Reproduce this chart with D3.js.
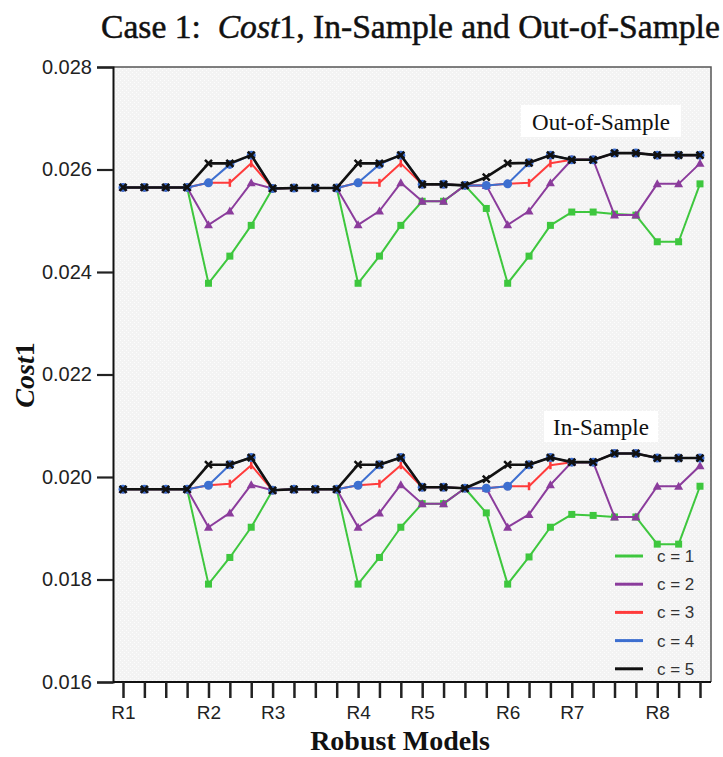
<!DOCTYPE html>
<html><head><meta charset="utf-8">
<script src="https://cdn.jsdelivr.net/npm/d3@7"></script>
<style>body{margin:0;background:#fff}svg{display:block}</style>
</head><body><svg id="c" width="723" height="757"></svg>
<script>
const categories = d3.range(28);
const tickLabels = ["R1","","","","R2","","","R3","","","","R4","","","R5","","","","R6","","","R7","","","","R8","",""];
const yTicks = [0.016,0.018,0.020,0.022,0.024,0.026,0.028];
const seriesNames = ["c = 1","c = 2","c = 3","c = 4","c = 5"];
const seriesColors = ["#3ec73e","#8b3c9c","#ff3b3b","#3d6fd0","#111111"];

const outC1 = [0.02565,0.02565,0.02565,0.02565,0.02378,0.02431,0.02491,0.02563,0.02564,0.02564,0.02564,0.02378,0.02431,0.02491,0.02538,0.02538,0.02569,0.02524,0.02378,0.02431,0.02491,0.02517,0.02517,0.02513,0.02511,0.02459,0.02459,0.02572];
const outC2 = [0.02565,0.02565,0.02565,0.02565,0.02492,0.02519,0.02574,0.02563,0.02564,0.02564,0.02564,0.02492,0.02519,0.02574,0.02538,0.02538,0.02569,0.02569,0.02492,0.02519,0.02574,0.02619,0.02619,0.02511,0.02511,0.02572,0.02572,0.02612];
const outC3 = [0.02565,0.02565,0.02565,0.02565,0.02574,0.02574,0.02612,0.02563,0.02564,0.02564,0.02564,0.02574,0.02574,0.02612,0.02571,0.02571,0.02569,0.02569,0.02572,0.02574,0.02612,0.02619,0.02619,0.02632,0.02632,0.02628,0.02628,0.02628];
const outC4 = [0.02565,0.02565,0.02565,0.02565,0.02574,0.02610,0.02628,0.02563,0.02564,0.02564,0.02564,0.02574,0.02610,0.02628,0.02571,0.02571,0.02569,0.02569,0.02572,0.02613,0.02628,0.02619,0.02619,0.02632,0.02632,0.02628,0.02628,0.02628];
const outC5 = [0.02565,0.02565,0.02565,0.02565,0.02612,0.02612,0.02628,0.02563,0.02564,0.02564,0.02564,0.02612,0.02612,0.02628,0.02571,0.02571,0.02569,0.02585,0.02612,0.02613,0.02628,0.02619,0.02619,0.02632,0.02632,0.02628,0.02628,0.02628];

const inC1 = [0.01976,0.01976,0.01976,0.01976,0.01791,0.01843,0.01902,0.01974,0.01976,0.01976,0.01976,0.01791,0.01843,0.01902,0.01948,0.01948,0.01978,0.01930,0.01791,0.01844,0.01902,0.01927,0.01925,0.01922,0.01922,0.01869,0.01869,0.01982];
const inC2 = [0.01976,0.01976,0.01976,0.01976,0.01902,0.01930,0.01985,0.01974,0.01976,0.01976,0.01976,0.01902,0.01930,0.01985,0.01948,0.01948,0.01978,0.01978,0.01902,0.01927,0.01985,0.02029,0.02029,0.01922,0.01922,0.01982,0.01982,0.02022];
const inC3 = [0.01976,0.01976,0.01976,0.01976,0.01984,0.01987,0.02023,0.01974,0.01976,0.01976,0.01976,0.01984,0.01987,0.02023,0.01980,0.01980,0.01978,0.01978,0.01982,0.01982,0.02023,0.02029,0.02029,0.02046,0.02046,0.02037,0.02037,0.02037];
const inC4 = [0.01976,0.01976,0.01976,0.01976,0.01984,0.02024,0.02038,0.01974,0.01976,0.01976,0.01976,0.01984,0.02024,0.02038,0.01980,0.01980,0.01978,0.01978,0.01982,0.02024,0.02038,0.02029,0.02029,0.02046,0.02046,0.02037,0.02037,0.02037];
const inC5 = [0.01976,0.01976,0.01976,0.01976,0.02024,0.02024,0.02038,0.01974,0.01976,0.01976,0.01976,0.02024,0.02024,0.02038,0.01980,0.01980,0.01978,0.01996,0.02024,0.02024,0.02038,0.02029,0.02029,0.02046,0.02046,0.02037,0.02037,0.02037];

const outSeries = [outC1,outC2,outC3,outC4,outC5];
const inSeries = [inC1,inC2,inC3,inC4,inC5];

const svg = d3.select("#c");
const L = 113, R = 711, T = 67, B = 682;
const x = d3.scalePoint().domain(categories).range([123, 700]);
const y = d3.scaleLinear().domain([0.016, 0.028]).range([B, T]);

// background pattern
const defs = svg.append("defs");
const pat = defs.append("pattern").attr("id","dots").attr("width",4).attr("height",4).attr("patternUnits","userSpaceOnUse");
pat.append("rect").attr("width",4).attr("height",4).attr("fill","#f3f3f3");
pat.append("rect").attr("x",0).attr("y",0).attr("width",1).attr("height",1).attr("fill","#fdfdfd");
pat.append("rect").attr("x",2).attr("y",2).attr("width",1).attr("height",1).attr("fill","#fdfdfd");
svg.append("rect").attr("x",L).attr("y",T).attr("width",R-L).attr("height",B-T).attr("fill","url(#dots)");
// top and right frame
svg.append("path").attr("d",`M${L},${T}H${R}V${B}`).attr("fill","none").attr("stroke","#555").attr("stroke-width",1.5);

// Annotation labels
function labelBox(txt, cx, baseline, w, h){
  svg.append("rect").attr("x",cx-w/2).attr("y",baseline-h+7).attr("width",w).attr("height",h).attr("fill","#fff");
  svg.append("text").attr("x",cx).attr("y",baseline).attr("text-anchor","middle")
    .attr("font-family","'Liberation Serif','Times New Roman',serif").attr("font-size",23).attr("fill","#111").text(txt);
}
labelBox("Out-of-Sample", 601, 130, 160, 32);
labelBox("In-Sample", 601, 435, 114, 31);

// y axis
const yAxis = d3.axisLeft(y).tickValues(yTicks).tickFormat(d3.format(".3f")).tickSize(16).tickPadding(5);
const gy = svg.append("g").attr("transform",`translate(${L},0)`).call(yAxis);
gy.select(".domain").attr("stroke","#111").attr("stroke-width",2);
gy.selectAll(".tick line").attr("stroke","#222").attr("stroke-width",2.2);
gy.selectAll(".tick text").attr("font-family","'Liberation Sans',Arial,sans-serif").attr("font-size",20).attr("fill","#222");

// x axis
const xAxis = d3.axisBottom(x).tickFormat((d,i)=>tickLabels[i]).tickSize(16).tickPadding(8);
const gx = svg.append("g").attr("transform",`translate(0,${B})`).call(xAxis);
gx.select(".domain").attr("d",`M${L},0H${R}`).attr("stroke","#111").attr("stroke-width",2);
gx.selectAll(".tick line").attr("stroke","#222").attr("stroke-width",2.5);
gx.selectAll(".tick text").attr("font-family","'Liberation Sans',Arial,sans-serif").attr("font-size",19).attr("fill","#222");

// series
const line = d3.line().x((d,i)=>x(i)).y(d=>y(d));
function marker(g, k, cx, cy, col){
  if(k===0){ g.append("rect").attr("x",cx-3.5).attr("y",cy-3.5).attr("width",7).attr("height",7).attr("fill",col); }
  else if(k===1){ g.append("path").attr("d",`M${cx},${cy-4.5}L${cx+4.5},${cy+3.5}L${cx-4.5},${cy+3.5}Z`).attr("fill",col); }
  else if(k===2){ g.append("path").attr("d",`M${cx},${cy-4}V${cy+4}`).attr("stroke",col).attr("stroke-width",2.5); }
  else if(k===3){ g.append("circle").attr("cx",cx).attr("cy",cy).attr("r",4.5).attr("fill",col); }
  else { g.append("path").attr("d",`M${cx-3.5},${cy-3.5}L${cx+3.5},${cy+3.5}M${cx+3.5},${cy-3.5}L${cx-3.5},${cy+3.5}`).attr("stroke",col).attr("stroke-width",2.5); }
}
[outSeries, inSeries].forEach(group=>{
  group.forEach((vals,k)=>{
    const g = svg.append("g");
    g.append("path").datum(vals).attr("d",line).attr("fill","none").attr("stroke",seriesColors[k])
      .attr("stroke-width",k===4?2.6:2).attr("stroke-linejoin","round");
    vals.forEach((v,i)=>marker(g,k,x(i),y(v),seriesColors[k]));
  });
});

// legend
const lg = svg.append("g");
seriesNames.forEach((n,k)=>{
  const yy = 556 + k*28.2;
  lg.append("line").attr("x1",615).attr("x2",643).attr("y1",yy).attr("y2",yy).attr("stroke",seriesColors[k]).attr("stroke-width",3);
  lg.append("text").attr("x",657).attr("y",yy+6).attr("font-family","'Liberation Sans',Arial,sans-serif").attr("font-size",17).attr("fill","#333").text(n);
});

// titles
const title = svg.append("text").attr("x",101).attr("y",38).attr("font-family","'Liberation Serif','Times New Roman',serif").attr("font-size",30).attr("fill","#111")
  .attr("stroke","#111").attr("stroke-width",0.5);
title.append("tspan").text("Case 1:\u00a0\u00a0");
title.append("tspan").attr("font-style","italic").text("Cost");
title.append("tspan").text("1, In-Sample and Out-of-Sample");
const tl = title.node().getComputedTextLength();
title.attr("font-size", 30*619/tl);

const yt = svg.append("text").attr("transform","translate(34,375) rotate(-90)").attr("text-anchor","middle")
  .attr("font-family","'Liberation Serif','Times New Roman',serif").attr("font-size",28).attr("font-weight","bold").attr("fill","#111");
yt.append("tspan").attr("font-style","italic").text("Cost");
yt.append("tspan").text("1");

svg.append("text").attr("x",400).attr("y",750).attr("text-anchor","middle")
  .attr("font-family","'Liberation Serif','Times New Roman',serif").attr("font-size",28).attr("font-weight","bold").attr("fill","#111").text("Robust Models");
</script></body></html>
